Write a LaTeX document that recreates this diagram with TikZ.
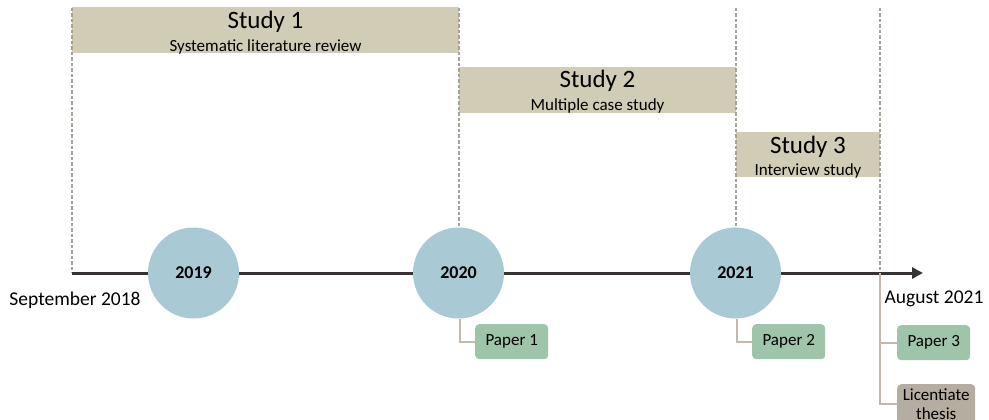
\documentclass[tikz,border=0pt]{standalone}
\usepackage{fontspec}
\setmainfont{Carlito}
\usetikzlibrary{arrows.meta}
\definecolor{studyfill}{HTML}{D1CCB6}
\definecolor{circfill}{HTML}{A9C9D5}
\definecolor{paperfill}{HTML}{9EC4A9}
\definecolor{licfill}{HTML}{B5AD9F}
\definecolor{connc}{HTML}{C2B8AE}
\definecolor{dashc}{HTML}{A8A198}
\definecolor{linec}{HTML}{383432}
\tikzset{
  studybox/.style={fill=studyfill, draw=none, inner sep=0pt, anchor=north west},
  studytitle/.style={font=\fontsize{25}{28}\selectfont, inner sep=0pt},
  studysub/.style={font=\fontsize{17}{19}\selectfont, inner sep=0pt},
  yearcirc/.style={circle, fill=circfill, draw=none, minimum size=91pt, inner sep=0pt, font=\bfseries\fontsize{18}{20}\selectfont},
  paperbox/.style={rounded corners=4pt, fill=paperfill, draw=none, minimum width=73pt, minimum height=35pt, anchor=north west, inner sep=0pt, font=\fontsize{17}{19}\selectfont},
  licbox/.style={rounded corners=4pt, fill=licfill, draw=none, minimum width=78pt, minimum height=40pt, anchor=north west, inner sep=0pt, align=center, font=\fontsize{17}{18.5}\selectfont},
  vdash/.style={draw=dashc, line width=1.2pt, dash pattern=on 3.5pt off 2pt},
  conn/.style={draw=connc, line width=1.6pt},
  datelabel/.style={font=\fontsize{19.5}{22}\selectfont, inner sep=0pt}
}
\begin{document}
\begin{tikzpicture}[x=1pt,y=-1pt]
\useasboundingbox (0,0) rectangle (989,420);
% coordinates
\coordinate (d1t) at (72,8);
\coordinate (d1b) at (72,273);
\coordinate (d2t) at (459,8);
\coordinate (d3t) at (736,8);
\coordinate (d4t) at (880,8);
\coordinate (d4b) at (880,273);
\coordinate (tlstart) at (72,273);
\coordinate (tlend) at (923,273);
% study boxes
\node[studybox, minimum width=387pt, minimum height=46pt] (s1) at (72,7) {};
\node[studybox, minimum width=277pt, minimum height=46pt] (s2) at (459,67) {};
\node[studybox, minimum width=144pt, minimum height=45pt] (s3) at (736,132) {};
% dashed lines
\draw[vdash] (d1t) -- (d1b);
\draw[vdash] (d2t) -- (459,240);
\draw[vdash] (d3t) -- (736,240);
\draw[vdash] (d4t) -- (d4b);
% study labels
\node[studytitle] (s1t) at (265.5,22) {Study 1};
\node[studysub] (s1s) at (265.5,46.5) {Systematic literature review};
\node[studytitle] (s2t) at (597.5,81) {Study 2};
\node[studysub] (s2s) at (597.5,105.5) {Multiple case study};
\node[studytitle] (s3t) at (808,147) {Study 3};
\node[studysub] (s3s) at (808,171) {Interview study};
% timeline
\draw[draw=linec, line width=3pt, -{Triangle[length=11pt,width=11pt]}] (tlstart) -- (tlend);
% circles
\node[yearcirc] (y2019) at (193.5,273) {2019};
\node[yearcirc] (y2020) at (458.5,273) {2020};
\node[yearcirc] (y2021) at (735.5,273) {2021};
% date labels
\node[datelabel] (sep) at (75,300) {September 2018};
\node[datelabel] (aug) at (934,299) {August 2021};
% papers
\node[paperbox] (p1) at (475,324) {Paper 1};
\node[paperbox] (p2) at (752,324) {Paper 2};
\node[paperbox] (p3) at (897,325) {Paper 3};
\node[licbox] (lic) at (897,384) {Licentiate\\thesis};
% connectors
\draw[conn] (y2020.south) ++(1.5,0) |- (p1.west);
\draw[conn] (y2021.south) ++(1.5,0) |- (p2.west);
\draw[conn] (d4b) |- (p3.west);
\draw[conn] (d4b) |- (lic.west);
\end{tikzpicture}
\end{document}
